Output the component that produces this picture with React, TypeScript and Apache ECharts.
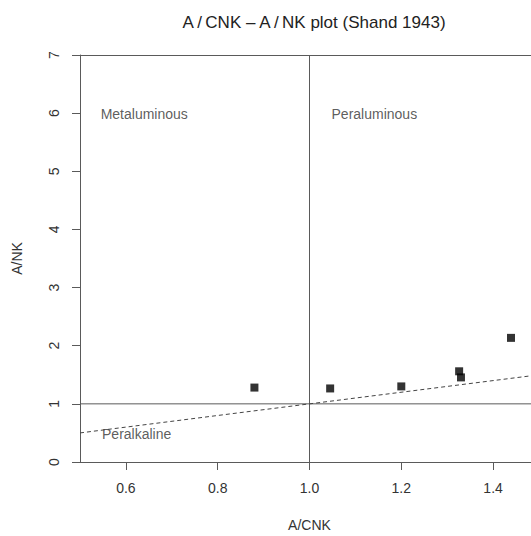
import React, { useEffect, useRef } from "react";
import * as echarts from "echarts";

const acnk = [0.88, 1.045, 1.2, 1.326, 1.33, 1.439];
const ank = [1.28, 1.265, 1.3, 1.56, 1.455, 2.135];
const xTicks = [0.6, 0.8, 1.0, 1.2, 1.4];
const yTicks = [0, 1, 2, 3, 4, 5, 6, 7];
const boundaryX = [0.5, 1.5];
const boundaryY = [0.5, 1.5];
const fieldNames = ["Metaluminous", "Peraluminous", "Peralkaline"];
const fieldX = [0.545, 1.048, 0.548];
const fieldY = [5.98, 5.98, 0.48];

const FONT = "Liberation Sans, Arial, Helvetica, sans-serif";
const LINE = "#5a5a5a";

export default function App() {
  const ref = useRef<HTMLDivElement>(null);
  useEffect(() => {
    if (!ref.current) return;
    const chart = echarts.init(ref.current, undefined, { renderer: "svg" });
    chart.setOption({
      animation: false,
      backgroundColor: "#ffffff",
      title: {
        text: "A\u2009/\u2009CNK \u2013 A\u2009/\u2009NK plot (Shand 1943)",
        left: 309,
        top: 9,
        textAlign: "center",
        textStyle: { fontFamily: FONT, fontSize: 17, fontWeight: "normal", color: "#222" },
      },
      grid: { left: 80, top: 55, width: 459, height: 407, outerBoundsMode: "none", containLabel: false },
      xAxis: [
        {
          type: "value",
          min: 0.5,
          max: 1.5,
          name: "A/CNK",
          nameLocation: "middle",
          nameGap: 56,
          nameTextStyle: { fontFamily: FONT, fontSize: 14, color: "#333" },
          axisLine: { show: true, onZero: false, lineStyle: { color: LINE, width: 1 } },
          axisTick: { show: true, length: 8, lineStyle: { color: LINE }, customValues: xTicks },
          axisLabel: {
            fontFamily: FONT,
            fontSize: 14,
            color: "#333",
            margin: 19,
            customValues: xTicks,
            formatter: (v: number) => v.toFixed(1),
          },
          splitLine: { show: false },
        },
        {
          type: "value",
          position: "top",
          min: 0.5,
          max: 1.5,
          axisLine: { show: true, onZero: false, lineStyle: { color: LINE, width: 1 } },
          axisTick: { show: false },
          axisLabel: { show: false },
          splitLine: { show: false },
        },
      ],
      yAxis: {
        type: "value",
        min: 0,
        max: 7,
        interval: 1,
        name: "A/NK",
        nameLocation: "middle",
        nameGap: 56,
        nameTextStyle: { fontFamily: FONT, fontSize: 14, color: "#333" },
        axisLine: { show: true, onZero: false, lineStyle: { color: LINE, width: 1 } },
        axisTick: { show: true, length: 8, lineStyle: { color: LINE } },
        axisLabel: {
          fontFamily: FONT,
          fontSize: 14,
          color: "#333",
          rotate: 90,
          margin: 19,
          customValues: yTicks,
        },
        splitLine: { show: false },
      },
      series: [
        {
          type: "line",
          data: [
            [boundaryX[0], 1],
            [boundaryX[1], 1],
          ],
          symbol: "none",
          lineStyle: { color: LINE, width: 1 },
          silent: true,
        },
        {
          type: "line",
          data: [
            [1, 0],
            [1, 7],
          ],
          symbol: "none",
          lineStyle: { color: LINE, width: 1 },
          silent: true,
        },
        {
          type: "line",
          data: boundaryX.map((x, i) => [x, boundaryY[i]]),
          symbol: "none",
          lineStyle: { color: "#444", width: 1, type: [4, 3] },
          silent: true,
        },
        {
          type: "scatter",
          data: acnk.map((x, i) => [x, ank[i]]),
          symbol: "rect",
          symbolSize: [8, 8],
          itemStyle: { color: "#000" },
        },
        {
          type: "scatter",
          data: fieldNames.map((n, i) => ({ name: n, value: [fieldX[i], fieldY[i]] })),
          symbolSize: 0,
          label: {
            show: true,
            position: [0, 0],
            align: "left",
            verticalAlign: "middle",
            formatter: (p: any) => p.name,
            fontFamily: FONT,
            fontSize: 14,
            color: "#333",
          },
        },
      ],
    });
    return () => chart.dispose();
  }, []);
  return (
    <div
      ref={ref}
      style={{ position: "fixed", left: 0, top: 0, width: 531, height: 536, overflow: "hidden" }}
    />
  );
}
